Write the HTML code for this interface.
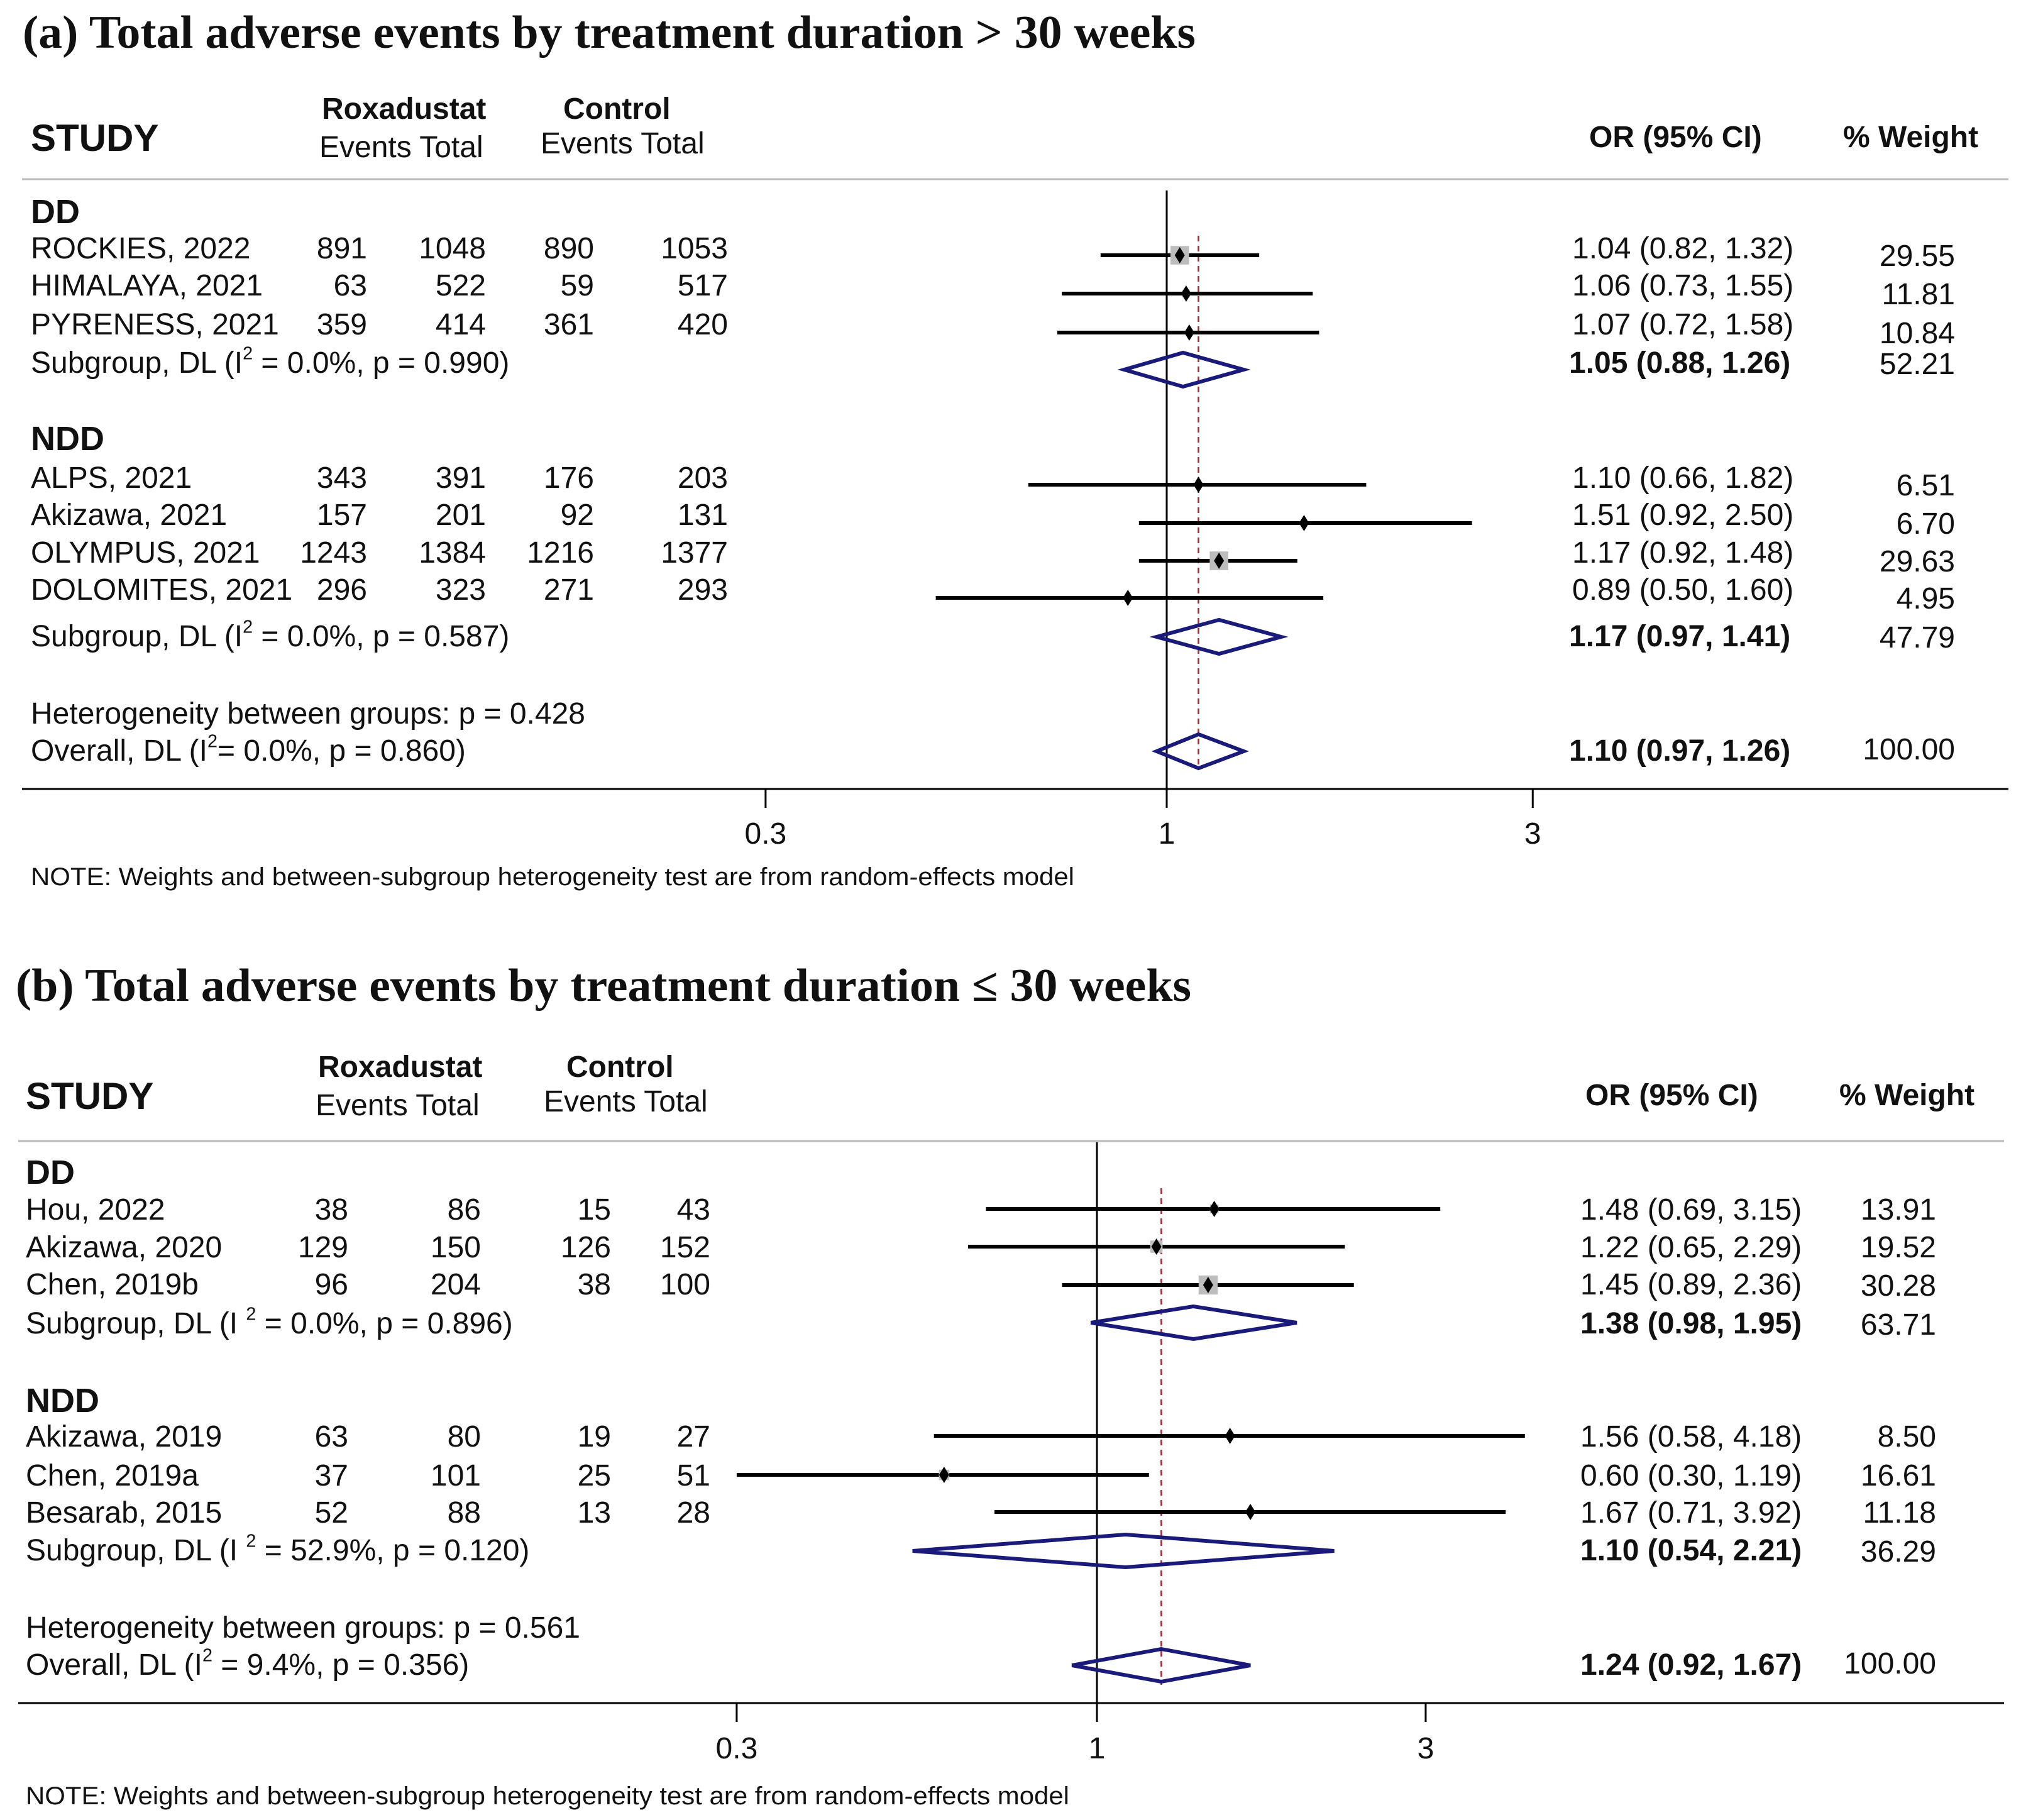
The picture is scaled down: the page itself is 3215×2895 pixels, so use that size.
<!DOCTYPE html>
<html><head><meta charset="utf-8"><style>
html,body{margin:0;padding:0;background:#fff}
svg{display:block}
text{font-family:"Liberation Sans",Arial,sans-serif;fill:#111}
.t{font-family:"Liberation Serif",serif;font-weight:bold;font-size:74px}
</style></head><body>
<svg id="chart" width="3215" height="2895" viewBox="0 0 3215 2895" xmlns="http://www.w3.org/2000/svg"></svg>
<script>
// ---------- Panel (a) data ----------
const aStudies = ["ROCKIES, 2022","HIMALAYA, 2021","PYRENESS, 2021","ALPS, 2021","Akizawa, 2021","OLYMPUS, 2021","DOLOMITES, 2021"];
const aGroups = ["DD","DD","DD","NDD","NDD","NDD","NDD"];
const aREvents = ["891","63","359","343","157","1243","296"];
const aRTotal = ["1048","522","414","391","201","1384","323"];
const aCEvents = ["890","59","361","176","92","1216","271"];
const aCTotal = ["1053","517","420","203","131","1377","293"];
const aOR = [1.04,1.06,1.07,1.10,1.51,1.17,0.89];
const aLo = [0.82,0.73,0.72,0.66,0.92,0.92,0.50];
const aHi = [1.32,1.55,1.58,1.82,2.50,1.48,1.60];
const aWeight = [29.55,11.81,10.84,6.51,6.70,29.63,4.95];
const aSubLabels = ["Subgroup, DL (I|2| = 0.0%, p = 0.990)","Subgroup, DL (I|2| = 0.0%, p = 0.587)"];
const aSubOR = [1.05,1.17];
const aSubLo = [0.88,0.97];
const aSubHi = [1.26,1.41];
const aSubWeight = [52.21,47.79];
const aHet = "Heterogeneity between groups: p = 0.428";
const aOverallLabel = "Overall, DL (I|2|= 0.0%, p = 0.860)";
const aOverall = [1.10,0.97,1.26];
const aTicks = [0.3,1,3];
// ---------- Panel (b) data ----------
const bStudies = ["Hou, 2022","Akizawa, 2020","Chen, 2019b","Akizawa, 2019","Chen, 2019a","Besarab, 2015"];
const bGroups = ["DD","DD","DD","NDD","NDD","NDD"];
const bREvents = ["38","129","96","63","37","52"];
const bRTotal = ["86","150","204","80","101","88"];
const bCEvents = ["15","126","38","19","25","13"];
const bCTotal = ["43","152","100","27","51","28"];
const bOR = [1.48,1.22,1.45,1.56,0.60,1.67];
const bLo = [0.69,0.65,0.89,0.58,0.30,0.71];
const bHi = [3.15,2.29,2.36,4.18,1.19,3.92];
const bWeight = [13.91,19.52,30.28,8.50,16.61,11.18];
const bSubLabels = ["Subgroup, DL (I |2| = 0.0%, p = 0.896)","Subgroup, DL (I |2| = 52.9%, p = 0.120)"];
const bSubOR = [1.38,1.10];
const bSubLo = [0.98,0.54];
const bSubHi = [1.95,2.21];
const bSubWeight = [63.71,36.29];
const bHet = "Heterogeneity between groups: p = 0.561";
const bOverallLabel = "Overall, DL (I|2| = 9.4%, p = 0.356)";
const bOverall = [1.24,0.92,1.67];
const bTicks = [0.3,1,3];

const svg = document.getElementById('chart');
const NS = "http://www.w3.org/2000/svg";
function el(tag, attrs, parent){
  const e = document.createElementNS(NS, tag);
  for (const k in attrs) e.setAttribute(k, attrs[k]);
  (parent||svg).appendChild(e);
  return e;
}
function txt(str, x, y, size, opts, parent){
  opts = opts||{};
  const t = el('text', {x:x, y:y, 'font-size':size, 'text-anchor':opts.anchor||'start'}, parent);
  if (opts.bold) t.setAttribute('font-weight','bold');
  if (opts.cls) t.setAttribute('class', opts.cls);
  if (opts.len) { t.setAttribute('textLength', opts.len); t.setAttribute('lengthAdjust','spacingAndGlyphs'); }
  const parts = str.split('|');
  parts.forEach((p,i)=>{
    const s = document.createElementNS(NS,'tspan');
    if (i%2===1){ s.setAttribute('font-size', size*0.6); s.setAttribute('dy', -size*0.45); }
    else if (i>0){ s.setAttribute('dy', size*0.45); }
    s.textContent = p; t.appendChild(s);
  });
  return t;
}
function fmt(v){ return v.toFixed(2); }
function ciText(o,l,h){ return fmt(o)+" ("+fmt(l)+",  "+fmt(h)+")"; }

function drawPanel(P, D){
  const g = el('g', {});
  
  
  const xs = v => P.x1 + P.k*Math.log(v);
  let t;
  t = txt(P.title, P.titleX, P.titleY, 74, {cls:'t', len:P.titleLen}, g);
   
  t = txt("Roxadustat", P.rox, P.hy1, 48, {bold:true}, g);
   
  t = txt("Control", P.ctl, P.hy1, 48, {bold:true}, g);
   
  t = txt("STUDY", P.nameX, P.hy2+4, 60, {bold:true}, g);
   
  t = txt("Events   Total", P.rox-4, P.hy2+14, 48, {}, g);
   
  t = txt("Events   Total", P.ctl-36, P.hy2+8, 48, {}, g);
   
  t = txt("OR (95% CI)", P.orHX, P.orHY, 48, {bold:true}, g);
   
  t = txt("% Weight", P.wHX, P.orHY, 48, {bold:true}, g);
   
  const gl = el('line', {x1:P.left, x2:P.right, y1:P.gray, y2:P.gray, stroke:'#bbb','stroke-width':3}, g);
   

  P.groupY.forEach((gy,i)=>{
    const gt = txt(i===0?"DD":"NDD", P.nameX, gy+19, 54, {bold:true}, g);
     
  });

  const v = el('line', {x1:xs(1), x2:xs(1), y1:P.vTop, y2:P.axisY, stroke:'#000','stroke-width':3}, g);
   
  const r = el('line', {x1:xs(D.overall[0]), x2:xs(D.overall[0]), y1:P.rTop, y2:P.rBot, stroke:'#b0242a','stroke-width':2.5,'stroke-dasharray':'9,7'}, g);
   

  D.studies.forEach((s,i)=>{
    const ty = P.rowY[i], ly = P.lineY[i];
    const row = el('g', {}, g);
     
    txt(s, P.nameX, ty+17, 48, {}, row);
    txt(D.re[i], P.c1, ty+17, 48, {anchor:'end'}, row);
    txt(D.rt[i], P.c2, ty+17, 48, {anchor:'end'}, row);
    txt(D.ce[i], P.c3, ty+17, 48, {anchor:'end'}, row);
    txt(D.ct[i], P.c4, ty+17, 48, {anchor:'end'}, row);
    txt(ciText(D.or[i],D.lo[i],D.hi[i]), P.orX, ty+17, 48, {}, row);
    txt(D.w[i].toFixed(2), P.wX, ly+17, 48, {anchor:'end'}, row);
    const ci = el('line', {x1:xs(D.lo[i]), x2:xs(D.hi[i]), y1:ly, y2:ly, stroke:'#000','stroke-width':6}, row);
     
    const side = D.w[i]*1.0, cx = xs(D.or[i]);
    const sq = el('rect', {x:cx-side/2, y:ly-side/2, width:side, height:side, fill:'#bdbdbd'}, row);
     
    const pt = el('polygon', {points:`${cx},${ly-13} ${cx+8},${ly} ${cx},${ly+13} ${cx-8},${ly}`, fill:'#000'}, row);
     
  });

  function diamond(o,l,h,y,name){
    const d = el('polygon', {points:`${xs(l)},${y} ${xs(o)},${y-P.dh} ${xs(h)},${y} ${xs(o)},${y+P.dh}`, fill:'none', stroke:'#1a1a7a','stroke-width':6}, g);
     
  }
  D.subLabels.forEach((lab,i)=>{
    const ty = P.subY[i];
    const sg = el('g', {}, g);
     
    txt(lab, P.nameX, ty+17, 48, {}, sg);
    txt(ciText(D.subOR[i],D.subLo[i],D.subHi[i]), P.orXb, ty+17, 48, {bold:true}, sg);
    txt(D.subW[i].toFixed(2), P.wX, ty+19, 48, {anchor:'end'}, sg);
    diamond(D.subOR[i],D.subLo[i],D.subHi[i],P.subDY[i],'subgroup-diamond');
  });
  t = txt(D.het, P.nameX, P.hetY+17, 48, {}, g);
   
  t = txt(D.overallLabel, P.nameX, P.ovY+17, 48, {}, g);
   
  t = txt(ciText(D.overall[0],D.overall[1],D.overall[2]), P.orXb, P.ovY+17, 48, {bold:true}, g);
   
  t = txt("100.00", P.wX, P.ovY+15, 48, {anchor:'end'}, g);
   
  diamond(D.overall[0],D.overall[1],D.overall[2],P.ovDY,'overall-diamond');

  const ax = el('line', {x1:P.left, x2:P.right, y1:P.axisY, y2:P.axisY, stroke:'#000','stroke-width':3}, g);
   
  D.ticks.forEach(tv=>{
    const tk = el('line', {x1:xs(tv), x2:xs(tv), y1:P.axisY, y2:P.axisY+30, stroke:'#000','stroke-width':3}, g);
     
    const tl = txt(String(tv), xs(tv), P.tickY+17, 48, {anchor:'middle'}, g);
     
  });
  t = txt("NOTE: Weights and between-subgroup heterogeneity test are from random-effects model", P.nameX, P.noteY+14, 40, {len:P.noteLen}, g);
   
}

drawPanel({
  name:'panel-a', title:"(a) Total adverse events by treatment duration > 30 weeks", titleX:36, titleY:76, titleLen:1866,
  rox:512, ctl:896, hy1:189, hy2:236, orHX:2528, wHX:2932, orHY:234,
  nameX:49, c1:584, c2:773, c3:945, c4:1158, orX:2501, orXb:2496, wX:3110,
  left:35, right:3195, gray:285, groupY:[336,697],
  rowY:[394,453,515,759,818,878,937], lineY:[406,467,529,771,832,892,951],
  subY:[576,1011], subDY:[588,1013], hetY:1134, ovY:1193, ovDY:1195, dh:27,
  x1:1856, k:530, vTop:303, axisY:1255, rTop:375, rBot:1225, tickY:1325, noteY:1394, noteLen:1660
},{studies:aStudies, re:aREvents, rt:aRTotal, ce:aCEvents, ct:aCTotal, or:aOR, lo:aLo, hi:aHi, w:aWeight,
   subLabels:aSubLabels, subOR:aSubOR, subLo:aSubLo, subHi:aSubHi, subW:aSubWeight, het:aHet,
   overallLabel:aOverallLabel, overall:aOverall, ticks:aTicks});

drawPanel({
  name:'panel-b', title:"(b) Total adverse events by treatment duration \u2264 30 weeks", titleX:25, titleY:1592, titleLen:1870,
  rox:506, ctl:901, hy1:1713, hy2:1760, orHX:2522, wHX:2926, orHY:1758,
  nameX:41, c1:554, c2:765, c3:972, c4:1130, orX:2514, orXb:2514, wX:3080,
  left:29, right:3188, gray:1815, groupY:[1864,2227],
  rowY:[1923,1983,2042,2284,2346,2405], lineY:[1923,1983,2044,2284,2346,2405],
  subY:[2104,2465], subDY:[2104,2467], hetY:2588, ovY:2647, ovDY:2649, dh:26,
  x1:1745, k:476, vTop:1817, axisY:2709, rTop:1890, rBot:2680, tickY:2780, noteY:2856, noteLen:1660
},{studies:bStudies, re:bREvents, rt:bRTotal, ce:bCEvents, ct:bCTotal, or:bOR, lo:bLo, hi:bHi, w:bWeight,
   subLabels:bSubLabels, subOR:bSubOR, subLo:bSubLo, subHi:bSubHi, subW:bSubWeight, het:bHet,
   overallLabel:bOverallLabel, overall:bOverall, ticks:bTicks});
</script>
</body></html>
